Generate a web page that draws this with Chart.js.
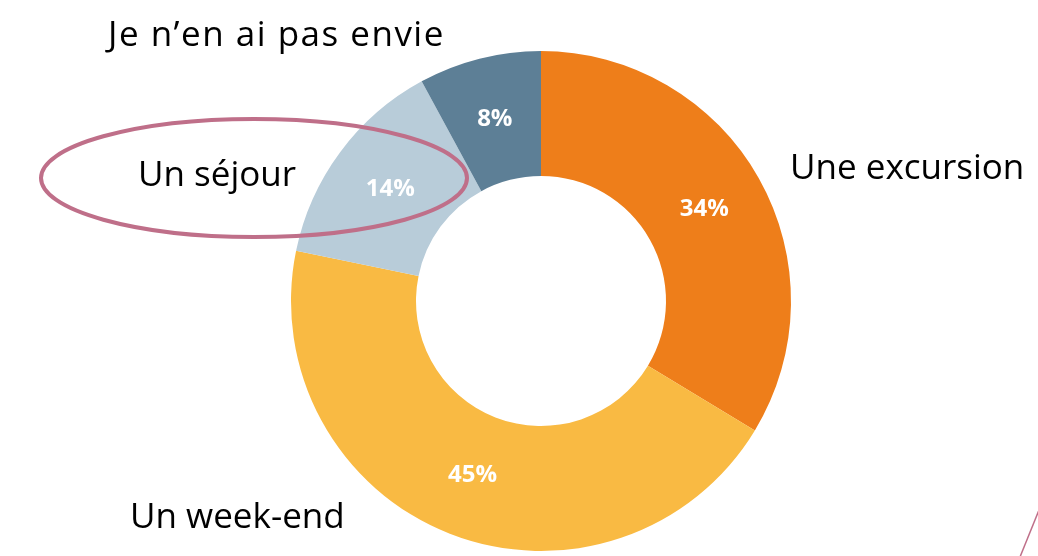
<!DOCTYPE html>
<html>
<head>
<meta charset="utf-8">
<script src="https://cdn.jsdelivr.net/npm/chart.js@4"></script>
<style>
	html, body { margin: 0; padding: 0; background: #fff; }
	#wrap { width: 1038px; height: 556px; position: relative; }
</style>
</head>
<body>
<div id="wrap"><canvas id="myDoughnutChart"></canvas></div>
<script>
var categories = ['Une excursion', 'Un week-end', 'Un séjour', 'Je n’en ai pas envie'];
var values = [34, 45, 14, 8];
var colors = ['#EE7E1A', '#F9BA43', '#B8CCD9', '#5D7F96'];

// where each category name sits on the canvas (x = left edge, y = baseline)
var namePos = [
	{ x: 790, y: 179, spacing: 0 },
	{ x: 130, y: 528, spacing: 0 },
	{ x: 138, y: 186, spacing: 0 },
	{ x: 108, y: 46, spacing: 1.5 },
];

var labelsPlugin = {
	id: 'labelsPlugin',
	afterDatasetsDraw: function (chart) {
		var c = chart.ctx;
		var meta = chart.getDatasetMeta(0);
		c.save();
		// percentages in the middle of each slice
		c.fillStyle = '#fff';
		c.font = 'bold 24px "Open Sans"';
		c.textAlign = 'center';
		c.textBaseline = 'middle';
		meta.data.forEach(function (arc, i) {
			var mid = (arc.startAngle + arc.endAngle) / 2;
			var r = (arc.innerRadius + arc.outerRadius) / 2;
			c.fillText(values[i] + '%', arc.x + Math.cos(mid) * r, arc.y + Math.sin(mid) * r);
		});
		// category names
		c.fillStyle = '#000';
		c.font = '35px "Open Sans"';
		c.textAlign = 'left';
		c.textBaseline = 'alphabetic';
		categories.forEach(function (name, i) {
			c.letterSpacing = namePos[i].spacing + 'px';
			c.fillText(name, namePos[i].x, namePos[i].y);
		});
		c.letterSpacing = '0px';
		// highlight around "Un séjour"
		c.strokeStyle = '#BF6F89';
		c.lineWidth = 4;
		c.beginPath();
		c.ellipse(254, 178, 213, 59, 0, 0, Math.PI * 2);
		c.stroke();
		// slide corner stroke
		c.lineWidth = 1.5;
		c.beginPath();
		c.moveTo(1039, 510);
		c.lineTo(1020, 557);
		c.stroke();
		c.restore();
	},
};

var ctx = document.getElementById('myDoughnutChart');
var myDoughnutChart = new Chart(ctx, {
	type: 'doughnut',
	data: {
		labels: categories,
		datasets: [
			{
				data: values,
				backgroundColor: colors,
				borderWidth: 0,
			},
		],
	},
	options: {
		responsive: true,
		maintainAspectRatio: false,
		animation: false,
		cutout: '50%',
		layout: {
			padding: { left: 291, right: 247, top: 51, bottom: 5 },
		},
		plugins: {
			legend: { display: false },
			tooltip: { enabled: false },
		},
	},
	plugins: [labelsPlugin],
});
</script>
</body>
</html>
